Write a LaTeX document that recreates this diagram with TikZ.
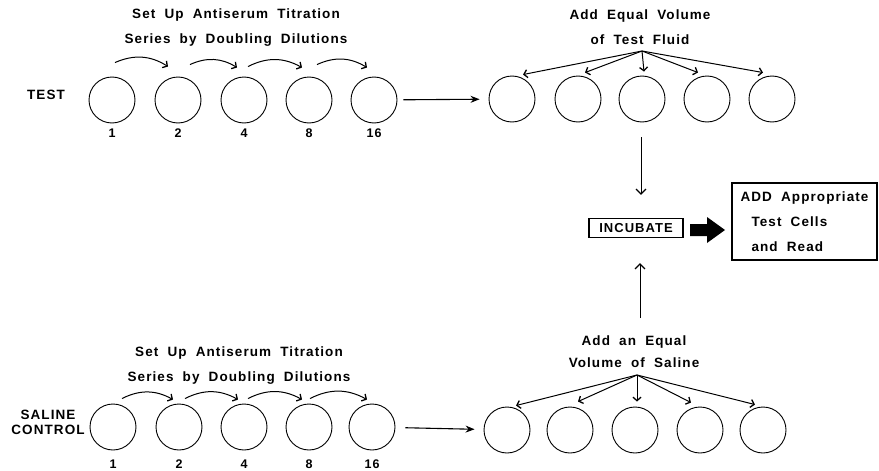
\documentclass[tikz,border=0pt]{standalone}
\usepackage{fontspec}
\setmainfont{Liberation Sans}[LetterSpace=8,WordSpace=1.9]
\usetikzlibrary{arrows.meta,calc}

\begin{document}
\begin{tikzpicture}[x=1pt,y=-1pt,
  well/.style={circle,draw,line width=0.9pt,minimum size=46pt,inner sep=0pt},
  lbl/.style={font=\fontsize{13.5}{25}\selectfont\bfseries,align=center,inner sep=0pt},
  num/.style={font=\fontsize{12.5}{12}\selectfont\bfseries,inner sep=0pt},
  flow/.style={line width=1.1pt,-{Stealth[length=9pt,width=7pt]}},
  hop/.style={line width=1pt,-{Straight Barb[length=3.5pt,width=8pt,line width=1.3pt]}},
  fan/.style={line width=1pt,-{Straight Barb[length=3.5pt,width=8pt,line width=1.3pt]}},
  vert/.style={line width=1pt,-{Straight Barb[length=5pt,width=10pt,line width=1.3pt]}},
]
\useasboundingbox (0,0) rectangle (879,471);

% ---------- test series ----------
\node[lbl] (test) at (46,95) {TEST};
\node[lbl] (ttlA) at (236,27.5) {Set Up Antiserum Titration\\Series by Doubling Dilutions};
\foreach \i/\x/\n in {1/112/1,2/178/2,3/244/4,4/309/8,5/374/16} {
  \node[well] (a\i) at (\x,100) {};
  \node[num] (na\i) at (\x,133) {\n};
}
\draw[hop] ($(a1.north)+(3,-14)$) to[bend left=28] ($(a2.north)+(-10,-10)$);
\draw[hop] ($(a2.north)+(12,-12)$) to[bend left=28] ($(a3.north)+(-7,-9)$);
\draw[hop] ($(a3.north)+(4,-10)$) to[bend left=28] ($(a4.north)+(-7,-9)$);
\draw[hop] ($(a4.north)+(8,-12)$) to[bend left=28] ($(a5.north)+(-7,-9)$);

\node[lbl] (ttlC) at (640,27.5) {Add Equal Volume\\of Test Fluid};
\coordinate (srcT) at (642,51);
\foreach \i/\x in {1/512,2/578,3/642,4/707,5/772} {
  \node[well] (r\i) at (\x,99) {};
}
\draw[flow,shorten <=6pt,shorten >=9pt] (a5) -- (r1);
\foreach \i/\dx/\dy in {1/11/-1,2/7/-3,3/2/-4,4/-9/-3,5/-9/-3}
  \draw[fan] (srcT) -- ($(r\i.north)+(\dx,\dy)$);

% ---------- incubation and reading ----------
\node[draw,line width=1.1pt,minimum width=94pt,minimum height=19pt,inner sep=0pt,
      font=\fontsize{13}{13}\selectfont\bfseries] (inc) at (636,228) {INCUBATE};
\coordinate (go) at (690,230);
\fill (go) ++(0,-6) -- ++(17,0) -- ++(0,-7) -- ++(18,13) -- ++(-18,13)
      -- ++(0,-7) -- ++(-17,0) -- cycle;
\node[draw,line width=1.1pt,minimum width=145pt,minimum height=77pt,inner sep=0pt,
      align=left,font=\fontsize{13.5}{25}\selectfont\bfseries] (read) at (804.5,221.5)
      {ADD Appropriate\\\hspace*{11pt}Test Cells\\\hspace*{11pt}and Read};

\coordinate (dn) at (641,137);
\draw[vert,shorten >=23pt] (dn) -- (dn |- inc.north);
\coordinate (up) at (640,318);
\draw[vert,shorten >=25pt] (up) -- (up |- inc.south);

% ---------- saline control series ----------
\node[lbl,font=\fontsize{13.5}{15}\selectfont\bfseries] (sal) at (48,422.5) {SALINE\\CONTROL};
\node[lbl] (ttlB) at (239,365.5) {Set Up Antiserum Titration\\Series by Doubling Dilutions};
\foreach \i/\x/\n in {1/113/1,2/179/2,3/244/4,4/309/8,5/372/16} {
  \node[well] (b\i) at (\x,427) {};
  \node[num] (nb\i) at (\x,464) {\n};
}
\draw[hop] ($(b1.north)+(9,-5)$) to[bend left=28] ($(b2.north)+(-6,-4)$);
\draw[hop] ($(b2.north)+(6,-5)$) to[bend left=28] ($(b3.north)+(-6,-4)$);
\draw[hop] ($(b3.north)+(4,-5)$) to[bend left=28] ($(b4.north)+(-7,-4)$);
\draw[hop] ($(b4.north)+(1,-5)$) to[bend left=28] ($(b5.north)+(-5,-4)$);

\node[lbl,font=\fontsize{13.5}{22}\selectfont\bfseries] (ttlD) at (634,352) {Add an Equal\\Volume of Saline};
\coordinate (srcB) at (637,375);
\foreach \i/\x in {1/507,2/570,3/635,4/700,5/763} {
  \node[well] (s\i) at (\x,430) {};
}
\draw[flow,shorten <=10pt,shorten >=9pt] (b5) -- (s1);
\foreach \i/\dx/\dy in {1/9/-1,2/8/-5,3/2/-5,4/-9/-4,5/-8/-2}
  \draw[fan] (srcB) -- ($(s\i.north)+(\dx,\dy)$);
\end{tikzpicture}
\end{document}
